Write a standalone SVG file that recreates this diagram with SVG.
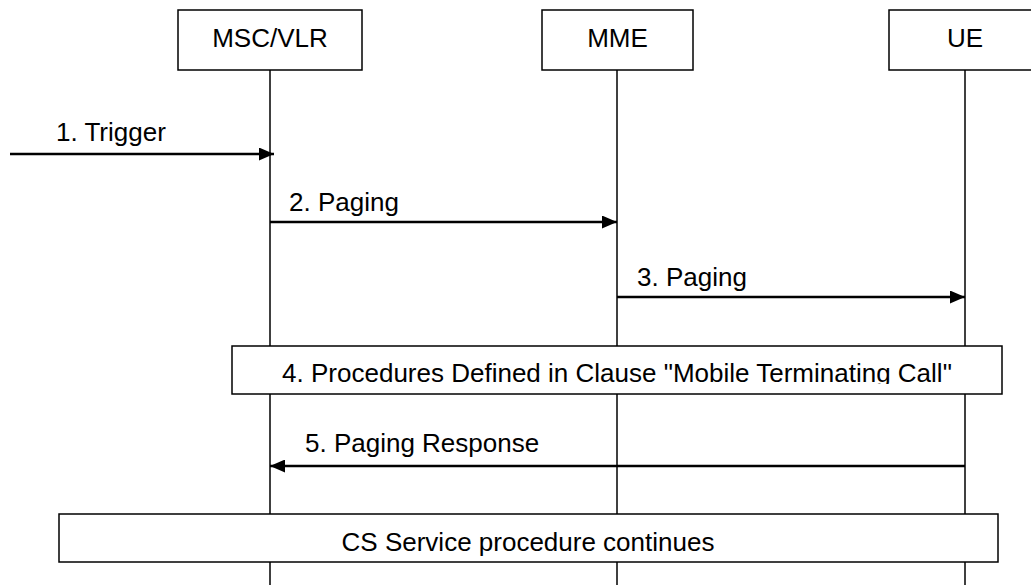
<svg xmlns="http://www.w3.org/2000/svg" width="1031" height="585" viewBox="0 0 1031 585">
  <style>
    text { font-family: "Liberation Sans", Arial, sans-serif; font-size: 26px; fill: #000; }
    .mid { text-anchor: middle; }
    .box { fill: #fff; stroke: #000; stroke-width: 1.5; }
    .life { stroke: #000; stroke-width: 1.5; fill: none; }
    .msg { stroke: #000; stroke-width: 2.5; fill: none; marker-end: url(#arrow); }
  </style>
  <defs>
    <marker id="arrow" markerUnits="userSpaceOnUse" markerWidth="15" markerHeight="13" refX="15" refY="6.5" orient="auto">
      <path d="M0,0 L15,6.5 L0,13 z" fill="#000"/>
    </marker>
    <clipPath id="clip4">
      <rect x="232" y="346" width="770" height="38"/>
    </clipPath>
  </defs>

  <g id="lifelines">
    <line class="life" x1="270" y1="70" x2="270" y2="585"/>
    <line class="life" x1="617" y1="70" x2="617" y2="585"/>
    <line class="life" x1="965" y1="70" x2="965" y2="585"/>
  </g>

  <g id="node-msc">
    <rect class="box" x="178" y="10" width="184" height="60"/>
    <text class="mid" x="270" y="47">MSC/VLR</text>
  </g>
  <g id="node-mme">
    <rect class="box" x="542" y="10" width="151" height="60"/>
    <text class="mid" x="617.5" y="47">MME</text>
  </g>
  <g id="node-ue">
    <rect class="box" x="889" y="10" width="152" height="60"/>
    <text class="mid" x="965" y="47">UE</text>
  </g>

  <g id="connectors">
    <line class="msg" x1="10" y1="154" x2="274" y2="154"/>
    <text x="56" y="141">1. Trigger</text>
    <line class="msg" x1="270" y1="222" x2="617" y2="222"/>
    <text x="289" y="211">2. Paging</text>
    <line class="msg" x1="617" y1="297" x2="965" y2="297"/>
    <text x="637" y="286">3. Paging</text>
    <line class="msg" x1="965" y1="466" x2="270" y2="466"/>
    <text x="305" y="452">5. Paging Response</text>
  </g>

  <g id="node-step4">
    <rect class="box" x="232" y="346" width="770" height="48"/>
    <text class="mid" x="617" y="382" clip-path="url(#clip4)">4. Procedures Defined in Clause "Mobile Terminating Call"</text>
  </g>

  <g id="node-cs">
    <rect class="box" x="59" y="514" width="939" height="48"/>
    <text class="mid" x="528" y="551">CS Service procedure continues</text>
  </g>
</svg>
